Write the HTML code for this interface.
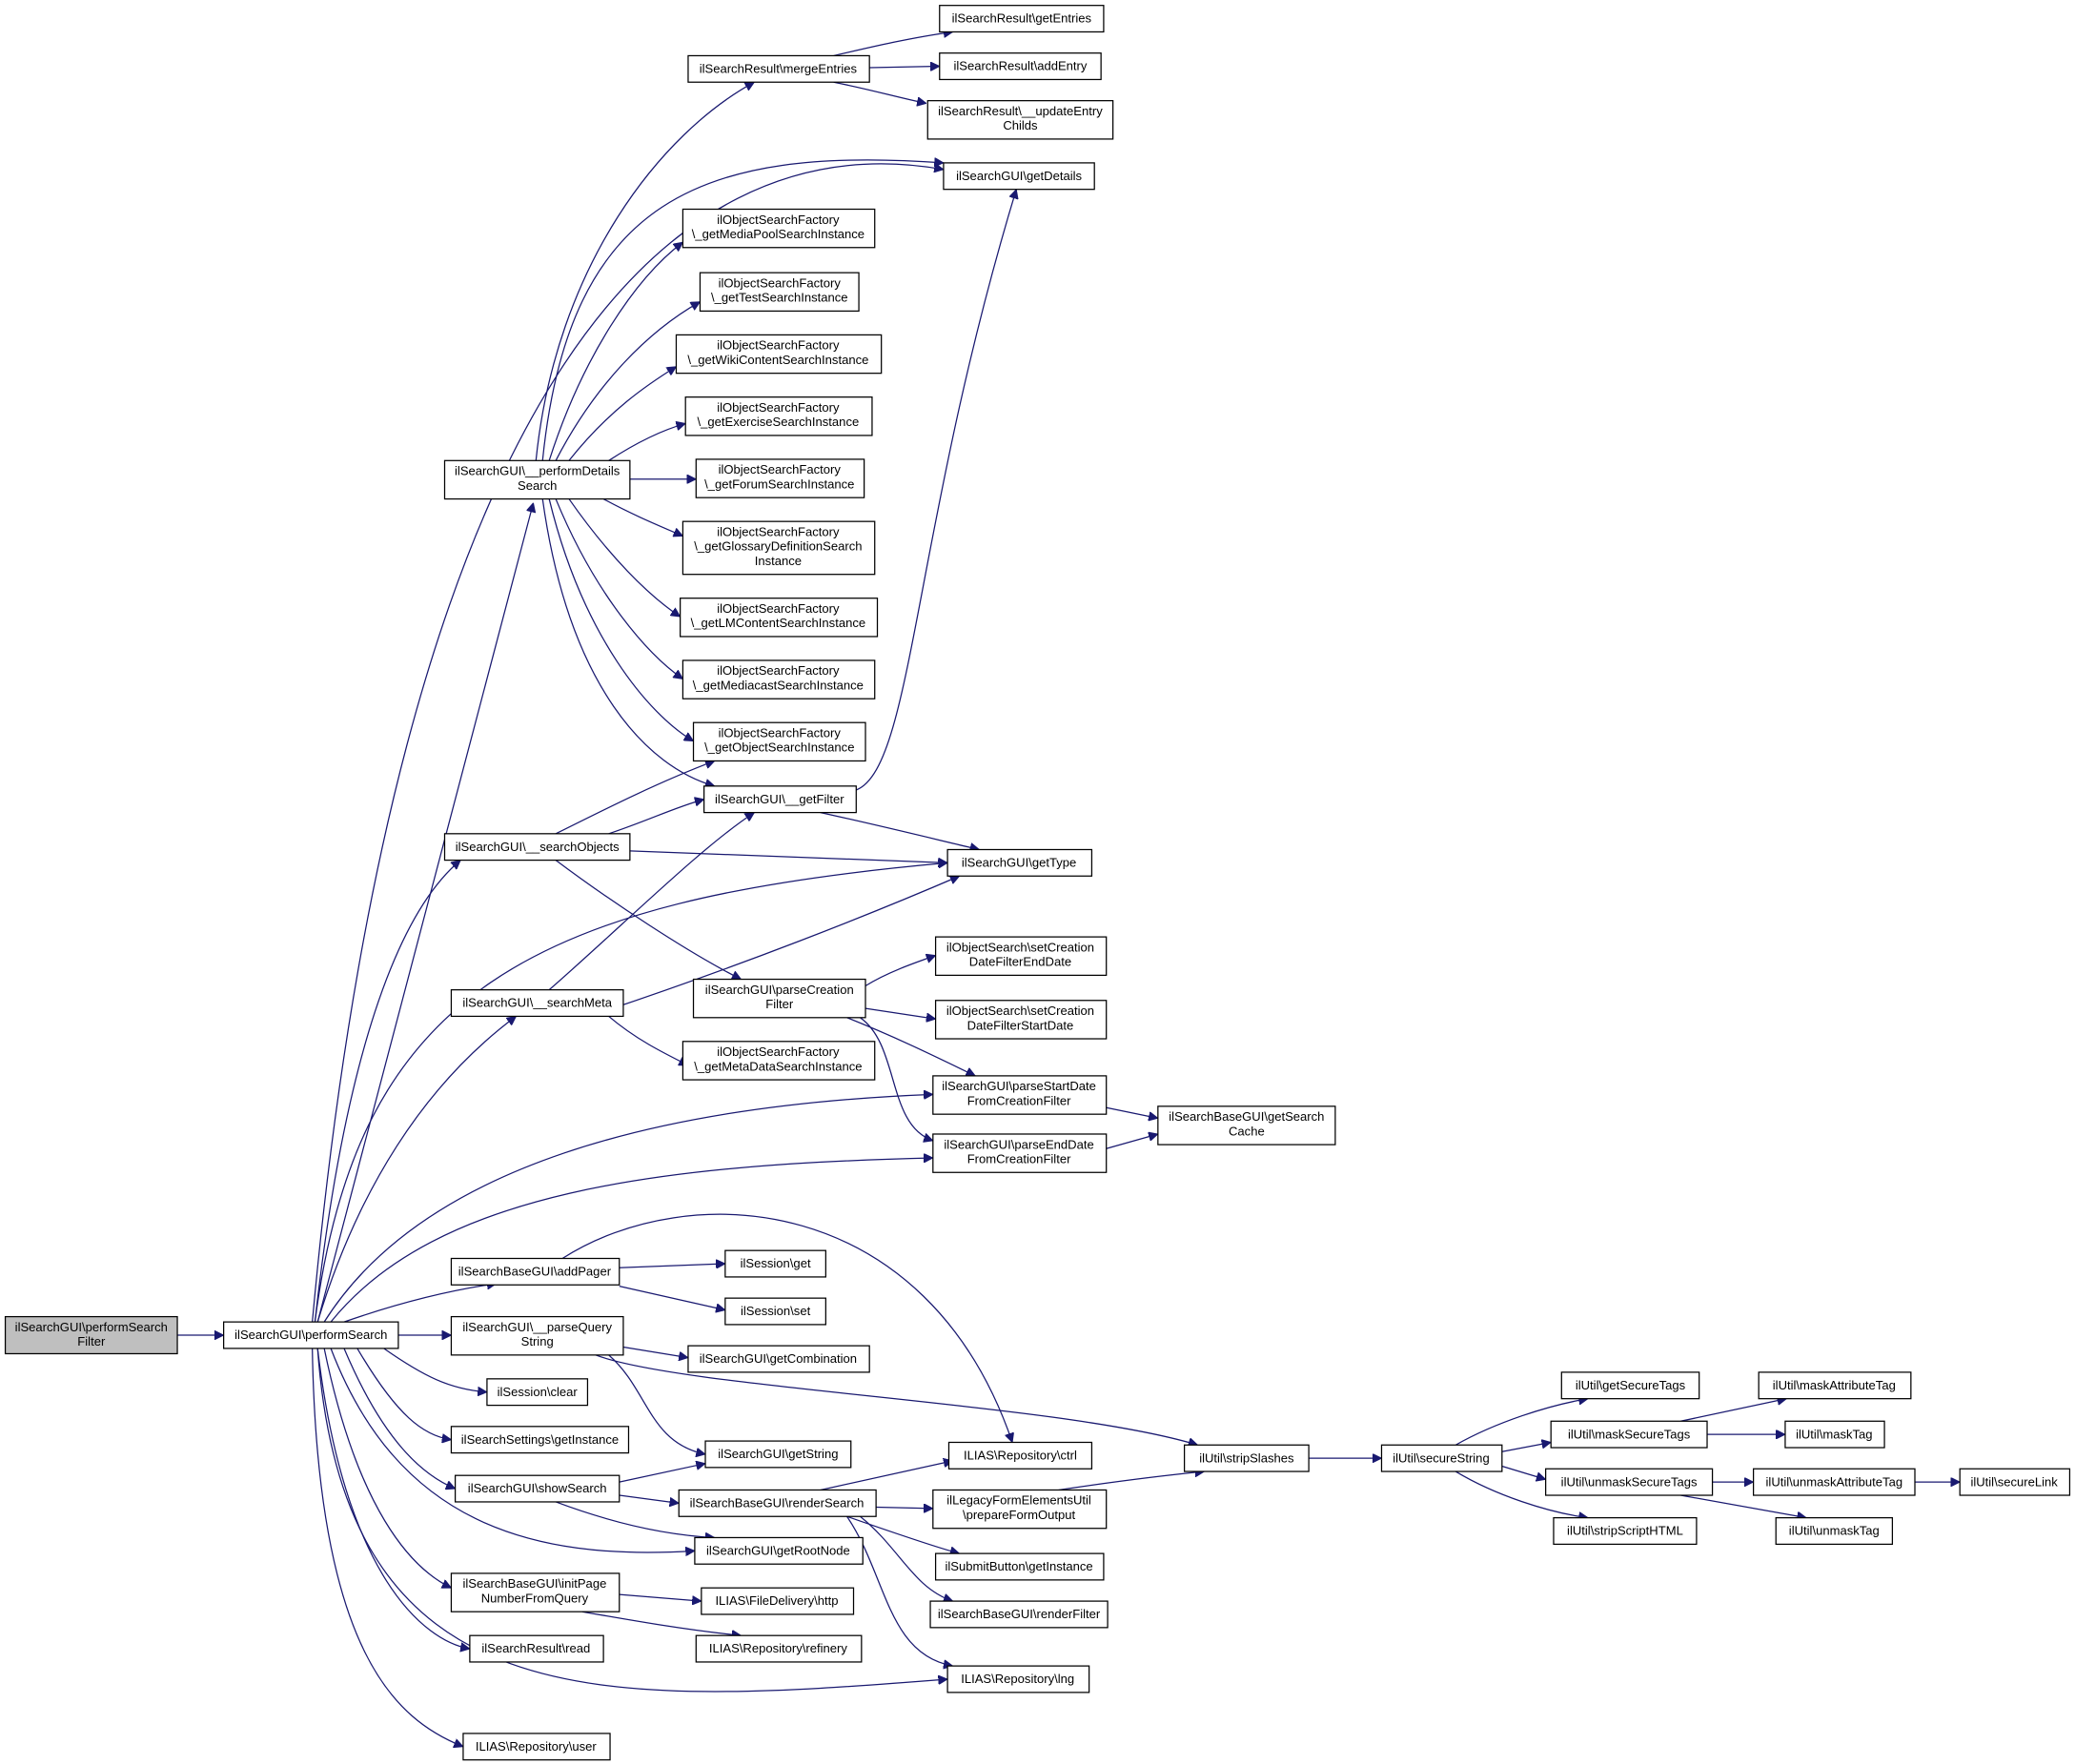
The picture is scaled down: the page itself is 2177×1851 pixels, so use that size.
<!DOCTYPE html>
<html><head><meta charset="utf-8"><style>
html,body{margin:0;padding:0;background:#fff;}
svg{display:block;}
text{font-family:"Liberation Sans",Arial,sans-serif;font-size:9.4px;fill:#000;text-anchor:middle;}
rect{fill:#fff;stroke:#000;stroke-width:0.9;}
path{fill:none;stroke:#191970;stroke-width:0.9;}
</style></head><body>
<svg width="2177" height="1851" viewBox="0 0 1568 1333" xmlns="http://www.w3.org/2000/svg">
<defs><marker id="a" viewBox="0 0 10 10" refX="10" refY="5" markerWidth="7" markerHeight="7" markerUnits="userSpaceOnUse" orient="auto"><path d="M0,0 L10,5 L0,10 z" style="fill:#191970;stroke:#191970"/></marker></defs>
<g marker-end="url(#a)">
<path d="M134 1009 L169 1009"/>
<path d="M240 999 L403 380"/>
<path d="M236 999 C300 300,500 90,713 128"/>
<path d="M238 999 C260 800,300 690,348 650"/>
<path d="M238 999 C270 750,400 680,716 652"/>
<path d="M240 999 C270 900,320 820,390 768"/>
<path d="M245 999 C320 880,500 835,705 827"/>
<path d="M250 999 C330 900,500 880,705 875"/>
<path d="M260 999 C300 985,340 975,375 970"/>
<path d="M301 1009 L341 1009"/>
<path d="M290 1019 C320 1040,340 1050,368 1052"/>
<path d="M270 1019 C300 1070,320 1085,341 1088"/>
<path d="M260 1019 C290 1090,320 1115,344 1125"/>
<path d="M250 1019 C300 1150,400 1180,525 1172"/>
<path d="M245 1019 C270 1140,310 1185,341 1200"/>
<path d="M240 1019 C260 1190,320 1240,355 1246"/>
<path d="M240 1019 C260 1300,450 1290,716 1269"/>
<path d="M236 1019 C240 1250,300 1300,350 1320"/>
<path d="M405 348 C420 200,500 100,570 62"/>
<path d="M410 348 C430 150,530 110,713 123"/>
<path d="M415 348 C440 270,480 210,516 183"/>
<path d="M420 348 C450 290,490 250,529 228"/>
<path d="M430 348 C460 310,490 290,511 277"/>
<path d="M460 348 C480 335,500 325,518 320"/>
<path d="M476 362 L526 362"/>
<path d="M456 377 C480 390,500 398,516 405"/>
<path d="M430 377 C460 420,490 450,514 466"/>
<path d="M420 377 C450 450,490 495,516 513"/>
<path d="M415 377 C440 480,490 540,524 560"/>
<path d="M410 377 C430 520,490 580,540 594"/>
<path d="M630 42 C660 35,690 28,720 24"/>
<path d="M657 51 L710 50"/>
<path d="M630 62 C660 68,680 74,700 78"/>
<path d="M420 630 C460 610,500 590,540 575"/>
<path d="M460 630 C490 620,510 610,532 604"/>
<path d="M476 643 L716 652"/>
<path d="M420 650 C460 680,520 720,560 740"/>
<path d="M647 597 C690 580,690 400,768 143"/>
<path d="M620 614 C670 625,710 635,740 642"/>
<path d="M415 748 C470 700,530 640,570 614"/>
<path d="M445 768 C560 730,660 690,725 662"/>
<path d="M460 768 C480 785,500 795,520 805"/>
<path d="M654 745 C670 735,690 728,707 722"/>
<path d="M654 762 L707 770"/>
<path d="M640 769 C680 785,710 800,737 813"/>
<path d="M650 769 C680 790,670 850,705 862"/>
<path d="M836 837 L875 845"/>
<path d="M836 868 L875 857"/>
<path d="M425 951 C520 890,700 900,765 1090"/>
<path d="M468 958 L548 955"/>
<path d="M468 972 L548 990"/>
<path d="M471 1018 L520 1026"/>
<path d="M460 1024 C490 1050,490 1090,533 1099"/>
<path d="M450 1024 C520 1050,800 1060,905 1092"/>
<path d="M468 1120 L533 1106"/>
<path d="M468 1130 L513 1136"/>
<path d="M420 1135 C460 1150,500 1160,540 1162"/>
<path d="M468 1205 L530 1210"/>
<path d="M440 1218 C480 1225,520 1232,560 1236"/>
<path d="M620 1126 L720 1104"/>
<path d="M662 1139 L705 1140"/>
<path d="M640 1146 C680 1160,710 1170,725 1174"/>
<path d="M650 1146 C680 1170,690 1200,720 1210"/>
<path d="M640 1146 C670 1190,670 1250,720 1259"/>
<path d="M800 1126 C840 1120,880 1115,910 1112"/>
<path d="M989 1102 L1044 1102"/>
<path d="M1100 1092 C1130 1075,1170 1062,1200 1057"/>
<path d="M1135 1097 L1172 1090"/>
<path d="M1135 1108 L1168 1118"/>
<path d="M1100 1112 C1130 1130,1170 1143,1200 1147"/>
<path d="M1270 1074 L1350 1057"/>
<path d="M1290 1084 L1349 1084"/>
<path d="M1294 1120 L1325 1120"/>
<path d="M1270 1130 L1365 1147"/>
<path d="M1447 1120 L1481 1120"/>
</g>
<!-- nodes -->
<rect x="4" y="995" width="130" height="28" style="fill:#bfbfbf"/><text x="69" y="1006">ilSearchGUI\performSearch</text><text x="69" y="1017">Filter</text>
<rect x="169" y="999" width="132" height="20"/><text x="235" y="1012">ilSearchGUI\performSearch</text>
<rect x="336" y="348" width="140" height="29"/><text x="406" y="359">ilSearchGUI\__performDetails</text><text x="406" y="370">Search</text>
<rect x="336" y="630" width="140" height="20"/><text x="406" y="643">ilSearchGUI\__searchObjects</text>
<rect x="341" y="748" width="130" height="20"/><text x="406" y="761">ilSearchGUI\__searchMeta</text>
<rect x="341" y="951" width="127" height="20"/><text x="404" y="964">ilSearchBaseGUI\addPager</text>
<rect x="341" y="995" width="130" height="29"/><text x="406" y="1006">ilSearchGUI\__parseQuery</text><text x="406" y="1017">String</text>
<rect x="368" y="1042" width="76" height="20"/><text x="406" y="1055">ilSession\clear</text>
<rect x="341" y="1078" width="134" height="20"/><text x="408" y="1091">ilSearchSettings\getInstance</text>
<rect x="344" y="1115" width="124" height="20"/><text x="406" y="1128">ilSearchGUI\showSearch</text>
<rect x="341" y="1189" width="127" height="29"/><text x="404" y="1200">ilSearchBaseGUI\initPage</text><text x="404" y="1211">NumberFromQuery</text>
<rect x="355" y="1236" width="101" height="20"/><text x="405" y="1249">ilSearchResult\read</text>
<rect x="350" y="1310" width="111" height="20"/><text x="405" y="1323">ILIAS\Repository\user</text>
<rect x="520" y="42" width="137" height="20"/><text x="588" y="55">ilSearchResult\mergeEntries</text>
<rect x="516" y="158" width="145" height="29"/><text x="588" y="169">ilObjectSearchFactory</text><text x="588" y="180">\_getMediaPoolSearchInstance</text>
<rect x="529" y="206" width="120" height="29"/><text x="589" y="217">ilObjectSearchFactory</text><text x="589" y="228">\_getTestSearchInstance</text>
<rect x="511" y="253" width="155" height="29"/><text x="588" y="264">ilObjectSearchFactory</text><text x="588" y="275">\_getWikiContentSearchInstance</text>
<rect x="518" y="300" width="141" height="29"/><text x="588" y="311">ilObjectSearchFactory</text><text x="588" y="322">\_getExerciseSearchInstance</text>
<rect x="526" y="347" width="127" height="29"/><text x="589" y="358">ilObjectSearchFactory</text><text x="589" y="369">\_getForumSearchInstance</text>
<rect x="516" y="394" width="145" height="40"/><text x="588" y="405">ilObjectSearchFactory</text><text x="588" y="416">\_getGlossaryDefinitionSearch</text><text x="588" y="427">Instance</text>
<rect x="514" y="452" width="149" height="29"/><text x="588" y="463">ilObjectSearchFactory</text><text x="588" y="474">\_getLMContentSearchInstance</text>
<rect x="516" y="499" width="145" height="29"/><text x="588" y="510">ilObjectSearchFactory</text><text x="588" y="521">\_getMediacastSearchInstance</text>
<rect x="524" y="546" width="130" height="29"/><text x="589" y="557">ilObjectSearchFactory</text><text x="589" y="568">\_getObjectSearchInstance</text>
<rect x="532" y="594" width="115" height="20"/><text x="589" y="607">ilSearchGUI\__getFilter</text>
<rect x="524" y="740" width="130" height="29"/><text x="589" y="751">ilSearchGUI\parseCreation</text><text x="589" y="762">Filter</text>
<rect x="516" y="787" width="145" height="29"/><text x="588" y="798">ilObjectSearchFactory</text><text x="588" y="809">\_getMetaDataSearchInstance</text>
<rect x="548" y="945" width="76" height="20"/><text x="586" y="958">ilSession\get</text>
<rect x="548" y="981" width="76" height="20"/><text x="586" y="994">ilSession\set</text>
<rect x="520" y="1017" width="137" height="20"/><text x="588" y="1030">ilSearchGUI\getCombination</text>
<rect x="533" y="1089" width="110" height="20"/><text x="588" y="1102">ilSearchGUI\getString</text>
<rect x="513" y="1126" width="149" height="20"/><text x="587" y="1139">ilSearchBaseGUI\renderSearch</text>
<rect x="525" y="1162" width="127" height="20"/><text x="588" y="1175">ilSearchGUI\getRootNode</text>
<rect x="530" y="1200" width="115" height="20"/><text x="587" y="1213">ILIAS\FileDelivery\http</text>
<rect x="526" y="1236" width="125" height="20"/><text x="588" y="1249">ILIAS\Repository\refinery</text>
<rect x="710" y="4" width="124" height="20"/><text x="772" y="17">ilSearchResult\getEntries</text>
<rect x="710" y="40" width="122" height="20"/><text x="771" y="53">ilSearchResult\addEntry</text>
<rect x="701" y="76" width="140" height="29"/><text x="771" y="87">ilSearchResult\__updateEntry</text><text x="771" y="98">Childs</text>
<rect x="713" y="123" width="114" height="20"/><text x="770" y="136">ilSearchGUI\getDetails</text>
<rect x="716" y="642" width="109" height="20"/><text x="770" y="655">ilSearchGUI\getType</text>
<rect x="707" y="708" width="129" height="29"/><text x="771" y="719">ilObjectSearch\setCreation</text><text x="771" y="730">DateFilterEndDate</text>
<rect x="707" y="756" width="129" height="29"/><text x="771" y="767">ilObjectSearch\setCreation</text><text x="771" y="778">DateFilterStartDate</text>
<rect x="705" y="813" width="131" height="29"/><text x="770" y="824">ilSearchGUI\parseStartDate</text><text x="770" y="835">FromCreationFilter</text>
<rect x="705" y="857" width="131" height="29"/><text x="770" y="868">ilSearchGUI\parseEndDate</text><text x="770" y="879">FromCreationFilter</text>
<rect x="717" y="1090" width="108" height="20"/><text x="771" y="1103">ILIAS\Repository\ctrl</text>
<rect x="705" y="1126" width="131" height="29"/><text x="770" y="1137">ilLegacyFormElementsUtil</text><text x="770" y="1148">\prepareFormOutput</text>
<rect x="707" y="1174" width="127" height="20"/><text x="770" y="1187">ilSubmitButton\getInstance</text>
<rect x="703" y="1210" width="134" height="20"/><text x="770" y="1223">ilSearchBaseGUI\renderFilter</text>
<rect x="716" y="1259" width="107" height="20"/><text x="769" y="1272">ILIAS\Repository\lng</text>
<rect x="875" y="836" width="134" height="29"/><text x="942" y="847">ilSearchBaseGUI\getSearch</text><text x="942" y="858">Cache</text>
<rect x="895" y="1092" width="94" height="20"/><text x="942" y="1105">ilUtil\stripSlashes</text>
<rect x="1044" y="1092" width="91" height="20"/><text x="1089" y="1105">ilUtil\secureString</text>
<rect x="1180" y="1037" width="104" height="20"/><text x="1232" y="1050">ilUtil\getSecureTags</text>
<rect x="1172" y="1074" width="118" height="20"/><text x="1231" y="1087">ilUtil\maskSecureTags</text>
<rect x="1168" y="1110" width="126" height="20"/><text x="1231" y="1123">ilUtil\unmaskSecureTags</text>
<rect x="1174" y="1147" width="108" height="20"/><text x="1228" y="1160">ilUtil\stripScriptHTML</text>
<rect x="1329" y="1037" width="115" height="20"/><text x="1386" y="1050">ilUtil\maskAttributeTag</text>
<rect x="1349" y="1074" width="75" height="20"/><text x="1386" y="1087">ilUtil\maskTag</text>
<rect x="1325" y="1110" width="122" height="20"/><text x="1386" y="1123">ilUtil\unmaskAttributeTag</text>
<rect x="1342" y="1147" width="88" height="20"/><text x="1386" y="1160">ilUtil\unmaskTag</text>
<rect x="1481" y="1110" width="83" height="20"/><text x="1522" y="1123">ilUtil\secureLink</text>
</svg>
</body></html>
